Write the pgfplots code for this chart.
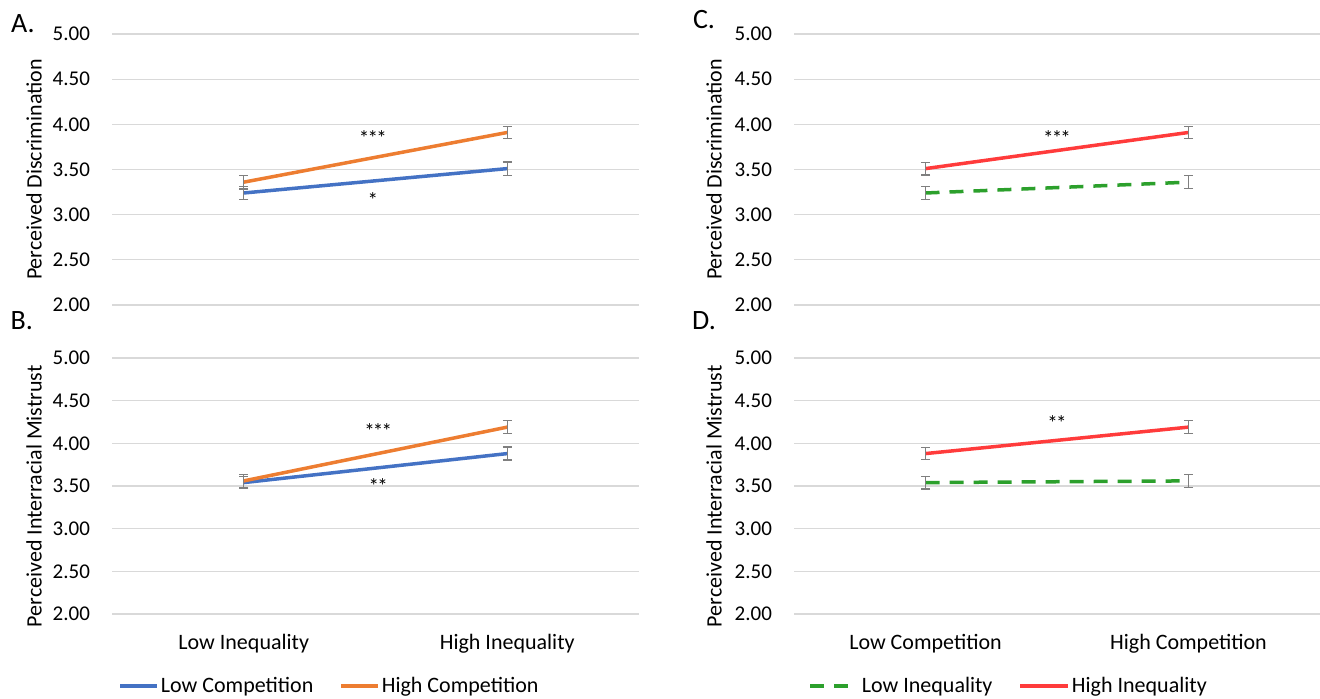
\documentclass[border=0pt]{standalone}
\usepackage{pgfplots}
\pgfplotsset{compat=1.18}
\usepackage{pgfplotstable}
\usepackage{fontspec}
\setmainfont{Carlito}
\definecolor{cblue}{HTML}{4472C4}
\definecolor{corange}{HTML}{ED7D31}
\definecolor{cgreen}{HTML}{2CA02C}
\definecolor{cred}{HTML}{FF3B3B}
\definecolor{errgray}{HTML}{7F7F7F}
\definecolor{gridgray}{HTML}{D9D9D9}

% Panel A: x = 0 Low Inequality, 1 High Inequality
\pgfplotstableread{
x y e
0 3.24 0.074
1 3.51 0.073
}\AlowComp
\pgfplotstableread{
x y e
0 3.36 0.075
1 3.91 0.068
}\AhighComp
% Panel B
\pgfplotstableread{
x y e
0 3.54 0.070
1 3.88 0.076
}\BlowComp
\pgfplotstableread{
x y e
0 3.56 0.078
1 4.19 0.078
}\BhighComp
% Panel C: x = 0 Low Competition, 1 High Competition
\pgfplotstableread{
x y e
0 3.24 0.074
1 3.36 0.074
}\ClowIneq
\pgfplotstableread{
x y e
0 3.51 0.070
1 3.91 0.068
}\ChighIneq
% Panel D
\pgfplotstableread{
x y e
0 3.54 0.074
1 3.56 0.074
}\DlowIneq
\pgfplotstableread{
x y e
0 3.88 0.073
1 4.19 0.076
}\DhighIneq

\newcommand{\sthree}{*\kern-0.9pt*\kern-0.9pt*}
\newcommand{\stwo}{*\kern-0.9pt*}
\tikzset{
  starlbl/.style={font=\fontsize{10.5}{11}\selectfont, inner sep=0pt},
  letterlbl/.style={font=\fontsize{14}{16}\selectfont},
}
\pgfplotsset{
  panel/.style={
    scale only axis,
    xmin=-0.5, xmax=1.5, ymin=2, ymax=5,
    ytick={2,2.5,3,3.5,4,4.5,5},
    xtick={0,1},
    ymajorgrids,
    grid style={color=gridgray, line width=0.6pt},
    axis line style={draw=none},
    tick style={draw=none},
    major tick length=0pt,
    /pgf/number format/.cd, fixed, fixed zerofill, precision=2, assume math mode=true,
    /pgfplots/.cd,
    yticklabel style={font=\fontsize{10.5}{12}\selectfont, xshift=-7.5pt},
    xticklabel style={font=\fontsize{11}{13}\selectfont, yshift=-6.5pt},
    ylabel style={font=\fontsize{11}{13}\selectfont, anchor=center},
    clip=false,
  },
  eb/.style={
    error bars/y dir=both, error bars/y explicit,
    error bars/error bar style={errgray, solid, line width=0.6pt},
    error bars/error mark options={errgray, solid, line width=0.6pt, mark size=2.25pt, rotate=90}},
}

\begin{document}
\begin{tikzpicture}
\useasboundingbox (0pt,0pt) rectangle (660pt,349pt);

% ---------- A ----------
\begin{axis}[panel, at={(56pt,196.5pt)}, anchor=south west,
  width=263.5pt, height=135.5pt, xticklabels={},
  ylabel={Perceived Discrimination},
  ylabel style={at={(axis description cs:-0.148,0.5)}}]
\addplot[cblue, line width=1.75pt, eb] table[x=x,y=y,y error=e] {\AlowComp};
\addplot[corange, line width=1.75pt, eb] table[x=x,y=y,y error=e] {\AhighComp};
\node[starlbl] at (axis cs:0.49,3.843) {\sthree};
\node[starlbl] at (axis cs:0.49,3.157) {*};
\node[letterlbl] at (axis description cs:-0.169,1.037) {A.};
\node[letterlbl] at (axis description cs:-0.171,-0.059) {B.};
\end{axis}

% ---------- B ----------
\begin{axis}[panel, at={(56pt,42pt)}, anchor=south west,
  width=263.5pt, height=128pt,
  xticklabels={Low Inequality, High Inequality},
  ylabel={Perceived Interracial Mistrust},
  ylabel style={at={(axis description cs:-0.148,0.46)}},
  legend columns=2,
  legend style={at={(axis description cs:0.0114,-0.281)}, anchor=west,
    draw=none, fill=none, inner sep=0pt,
    font=\fontsize{11}{13}\selectfont,
    nodes={inner xsep=1pt, inner ysep=0pt},
    /tikz/every even column/.append style={column sep=12pt}},
  legend cell align=left,
  legend image code/.code={\draw[#1, line cap=butt] (0pt,0pt) -- (18.5pt,0pt);}]
\addplot[cblue, line width=1.75pt, eb] table[x=x,y=y,y error=e] {\BlowComp};
\addlegendentry{Low Competition}
\addplot[corange, line width=1.75pt, eb] table[x=x,y=y,y error=e] {\BhighComp};
\addlegendentry{High Competition}
\node[starlbl] at (axis cs:0.51,4.139) {\sthree};
\node[starlbl] at (axis cs:0.51,3.498) {\stwo};
\end{axis}

% ---------- C ----------
\begin{axis}[panel, at={(397pt,196.5pt)}, anchor=south west,
  width=263pt, height=135.5pt, xticklabels={},
  ylabel={Perceived Discrimination},
  ylabel style={at={(axis description cs:-0.152,0.5)}}]
\addplot[cgreen, line width=1.75pt, dash pattern=on 7pt off 5pt, eb] table[x=x,y=y,y error=e] {\ClowIneq};
\addplot[cred, line width=1.75pt, eb] table[x=x,y=y,y error=e] {\ChighIneq};
\node[starlbl] at (axis cs:0.5,3.843) {\sthree};
\node[letterlbl] at (axis description cs:-0.171,1.055) {C.};
\node[letterlbl] at (axis description cs:-0.171,-0.059) {D.};
\end{axis}

% ---------- D ----------
\begin{axis}[panel, at={(397pt,42pt)}, anchor=south west,
  width=263pt, height=128pt,
  xticklabels={Low Competition, High Competition},
  ylabel={Perceived Interracial Mistrust},
  ylabel style={at={(axis description cs:-0.152,0.46)}},
  legend columns=2,
  legend style={at={(axis description cs:0.0266,-0.281)}, anchor=west,
    draw=none, fill=none, inner sep=0pt,
    font=\fontsize{11}{13}\selectfont,
    nodes={inner xsep=1pt, inner ysep=0pt},
    /tikz/every even column/.append style={column sep=12pt}},
  legend cell align=left,
  legend image code/.code={\draw[#1, line cap=butt] (0pt,0pt) -- (24pt,0pt);}]
\addplot[cgreen, line width=1.75pt, dash pattern=on 7pt off 5pt, eb] table[x=x,y=y,y error=e] {\DlowIneq};
\addlegendentry{Low Inequality}
\addplot[cred, line width=1.75pt, eb] table[x=x,y=y,y error=e] {\DhighIneq};
\addlegendentry{High Inequality}
\node[starlbl] at (axis cs:0.5,4.232) {\stwo};
\end{axis}
\end{tikzpicture}
\end{document}
